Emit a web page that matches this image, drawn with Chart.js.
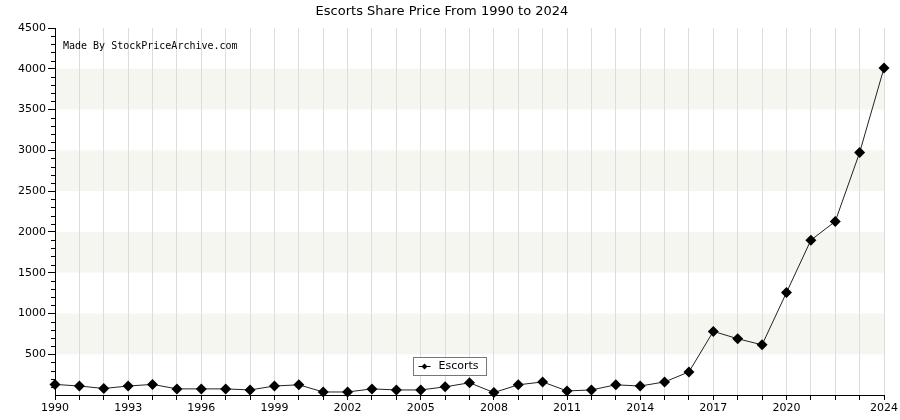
<!DOCTYPE html>
<html><head><meta charset="utf-8">
<script src="https://cdn.jsdelivr.net/npm/chart.js@4"></script>
<style>html,body{margin:0;padding:0;background:#fff}#wrap{width:900px;height:420px}</style>
</head><body><div id="wrap"><canvas id="c"></canvas></div>
<script>
const titleText = 'Escorts Share Price From 1990 to 2024';
const seriesName = 'Escorts';
const years = [1990,1991,1992,1993,1994,1995,1996,1997,1998,1999,2000,2001,2002,2003,2004,2005,2006,2007,2008,2009,2010,2011,2012,2013,2014,2015,2016,2017,2018,2019,2020,2021,2022,2023,2024];
const prices = [130,110,80,110,130,75,75,75,62,110,125,37,37,75,62,62,100,150,30,125,160,50,62,125,110,160,283,780,690,615,1256,1898,2128,2972,4010];
const xLabelYears = [1990,1993,1996,1999,2002,2005,2008,2011,2014,2017,2020,2024];
const yLabelValues = [500,1000,1500,2000,2500,3000,3500,4000,4500];
const bands = [[500,1000],[1500,2000],[2500,3000],[3500,4000]];
const credit = 'Made By StockPriceArchive.com';

const bandPlugin = {
  id:'bands',
  beforeDraw(chart){
    const {ctx, chartArea:a, scales:{y}} = chart;
    ctx.save();
    ctx.fillStyle = '#f6f6f1';
    bands.forEach(([lo,hi])=>{
      const t = y.getPixelForValue(hi), b = y.getPixelForValue(lo);
      ctx.fillRect(a.left, t, a.right - a.left + 1, b - t);
    });
    ctx.restore();
  },
  afterDraw(chart){
    const {ctx, chartArea:a, scales:{y}} = chart;
    ctx.save();
    ctx.strokeStyle = '#000'; ctx.lineWidth = 1;
    y.ticks.forEach(t=>{
      if (t.value % 500 !== 0) {
        const py = Math.round(y.getPixelForValue(t.value)) + 0.5;
        ctx.beginPath(); ctx.moveTo(a.left - 4, py); ctx.lineTo(a.left, py); ctx.stroke();
      }
    });
    ctx.fillStyle = '#000';
    ctx.font = '10px "DejaVu Sans Mono"';
    ctx.textBaseline = 'alphabetic';
    ctx.fillText(credit, a.left + 8, 49);
    const lbl = chart.data.datasets[0].label;
    ctx.font = '11px "DejaVu Sans"';
    const tw = ctx.measureText(lbl).width;
    const bw = tw + 33, bh = 18;
    const cx = chart.width / 2;
    const bx = Math.round(cx - bw / 2) + 0.5, by = 357.5;
    ctx.fillStyle = '#fff';
    ctx.fillRect(bx, by, bw, bh);
    ctx.strokeStyle = '#777';
    ctx.strokeRect(bx, by, bw, bh);
    const my = by + bh / 2;
    ctx.strokeStyle = '#000';
    ctx.beginPath(); ctx.moveTo(bx + 5, my); ctx.lineTo(bx + 17, my); ctx.stroke();
    ctx.fillStyle = '#000';
    ctx.beginPath();
    ctx.moveTo(bx + 11, my - 3); ctx.lineTo(bx + 14, my); ctx.lineTo(bx + 11, my + 3); ctx.lineTo(bx + 8, my); ctx.closePath(); ctx.fill();
    ctx.textBaseline = 'middle';
    ctx.fillText(lbl, bx + 25, my);
    ctx.restore();
  }
};

new Chart(document.getElementById('c'), {
  type:'line',
  data:{
    datasets:[{
      label: seriesName,
      data: years.map((yr,i)=>({x:yr, y:prices[i]})),
      borderColor:'#222',
      borderWidth:1,
      backgroundColor:'#000',
      pointStyle:'rectRot',
      pointRadius:5.5,
      pointHoverRadius:5.5,
      pointBorderWidth:0,
      tension:0,
      clip:false
    }]
  },
  options:{
    responsive:true,
    maintainAspectRatio:false,
    animation:false,
    devicePixelRatio:1,
    layout:{padding:{left:0,right:16,top:0,bottom:0}},
    plugins:{
      legend:{display:false},
      tooltip:{enabled:false},
      title:{display:true,text:titleText,color:'#000',font:{family:'DejaVu Sans',size:13,weight:'normal'},padding:{top:4,bottom:8.4}}
    },
    scales:{
      x:{
        type:'linear',
        min:1990,max:2024,
        afterFit(s){s.height = 25;},
        ticks:{
          stepSize:1,autoSkip:false,maxRotation:0,
          color:'#000',font:{family:'DejaVu Sans',size:11},padding:2,
          callback:(v)=> xLabelYears.includes(v) ? String(v) : ''
        },
        grid:{color:'#ddd',tickColor:'#000',tickLength:5,lineWidth:1},
        border:{color:'#000',width:1}
      },
      y:{
        type:'linear',
        min:0,max:4500,
        afterFit(s){s.width = 55;},
        ticks:{
          stepSize:100,autoSkip:false,
          color:'#000',font:{family:'DejaVu Sans',size:11},padding:2,
          callback:(v)=> yLabelValues.includes(v) ? String(v) : ''
        },
        grid:{drawOnChartArea:false,tickLength:7,
          tickColor:(c)=> (c.tick && c.tick.value % 500 === 0 && c.tick.value>0) ? '#000' : 'rgba(0,0,0,0)'},
        border:{color:'#000',width:1}
      }
    }
  },
  plugins:[bandPlugin]
});
</script></body></html>
